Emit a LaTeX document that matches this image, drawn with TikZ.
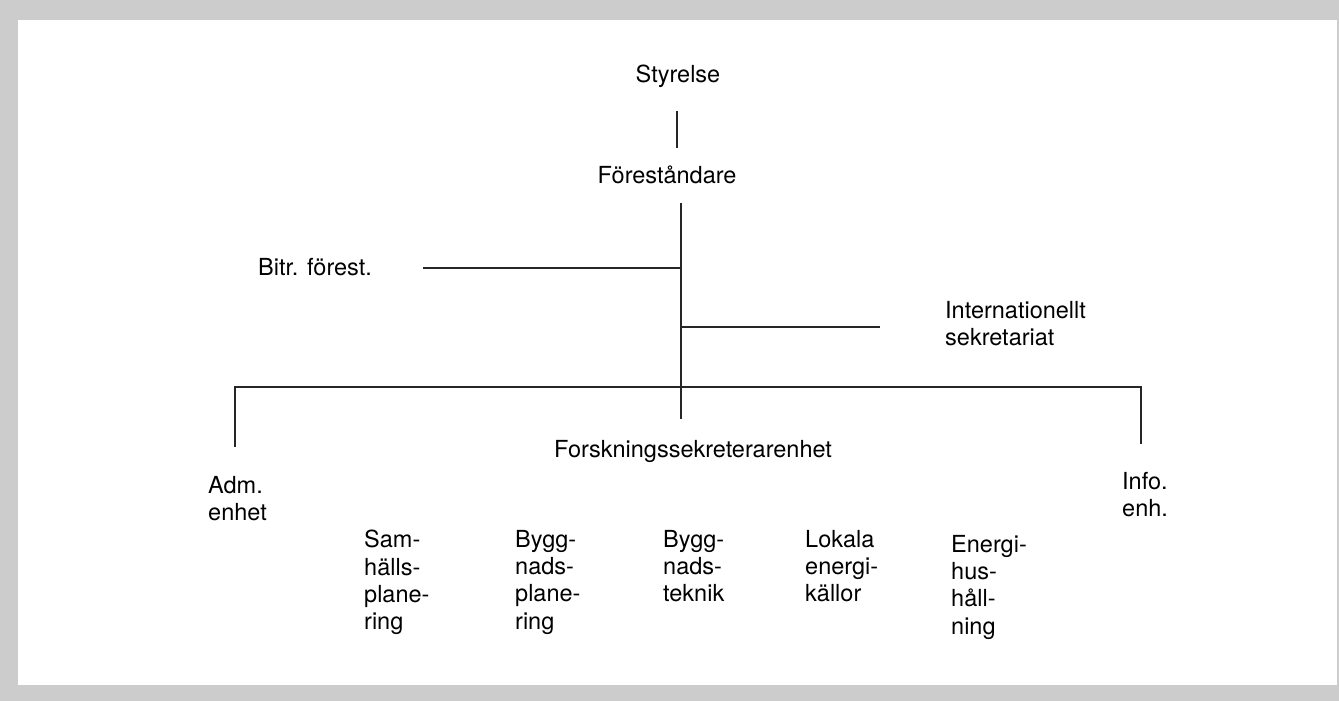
\documentclass[tikz,border=0pt]{standalone}
\usepackage{fontspec}
\setmainfont{TeX Gyre Heros}
\begin{document}
\begin{tikzpicture}[x=1pt,y=-1pt,
  lbl/.style={inner sep=0pt,font=\fontsize{23.5}{27.3}\selectfont},
  one/.style={lbl,anchor=base},
  onew/.style={lbl,anchor=base west},
  multi/.style={lbl,anchor=north west,align=left},
  conn/.style={draw=black!85,line width=1.2pt}]
\useasboundingbox (0,0) rectangle (1339,701);
\fill[black!20] (0,0) rectangle (1339,701);
\fill[white] (18,20) rectangle (1337,685);
% labels
\node[one]  (sty) at (678,83) {Styrelse};
\node[one]  (for) at (667,183) {Föreståndare};
\node[onew] (bit) at (258,275) {Bitr. förest.};
\node[multi] (int) at (945,301) {Internationellt\\sekretariat};
\node[onew] (fse) at (554,457) {Forskningssekreterarenhet};
\node[multi] (adm) at (208,476) {Adm.\\enhet};
\node[multi] (inf) at (1122,472) {Info.\\enh.};
\node[multi] (sam) at (364,530) {Sam-\\hälls-\\plane-\\ring};
\node[multi] (bpl) at (515,530) {Bygg-\\nads-\\plane-\\ring};
\node[multi] (bte) at (663,530) {Bygg-\\nads-\\teknik};
\node[multi] (lok) at (805,530) {Lokala\\energi-\\källor};
\node[multi] (ene) at (951,535) {Energi-\\hus-\\håll-\\ning};
% junction points
\coordinate (a1) at (677,111);
\coordinate (a2) at (677,148);
\coordinate (f1) at (681,203);
\coordinate (j1) at (681,268);
\coordinate (j2) at (681,327);
\coordinate (f2) at (681,419);
\coordinate (bl) at (423,268);
\coordinate (ir) at (880,327);
\coordinate (hl) at (235,387);
\coordinate (hr) at (1141,387);
\coordinate (lb) at (235,447);
\coordinate (rb) at (1141,444);
% connectors
\draw[conn] (a1) -- (a2);
\draw[conn] (f1) -- (f2);
\draw[conn] (bl) -- (j1);
\draw[conn] (j2) -- (ir);
\draw[conn] (lb) -- (hl) -- (hr) -- (rb);
\end{tikzpicture}
\end{document}
